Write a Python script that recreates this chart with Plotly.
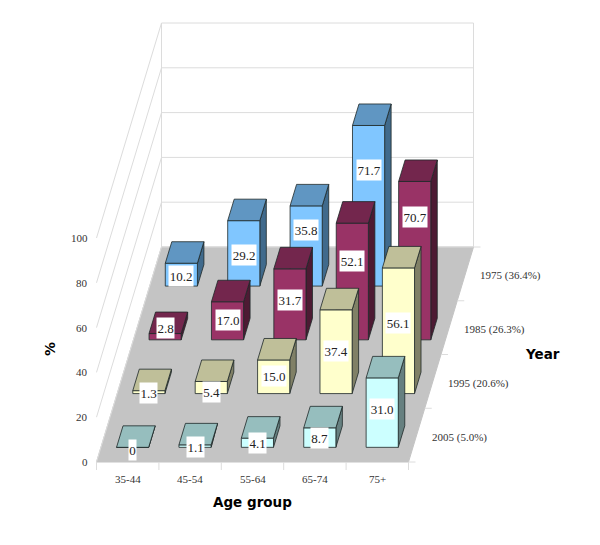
import plotly.graph_objects as go

# ---- data ----
age_groups = ["35-44", "45-54", "55-64", "65-74", "75+"]
years = ["2005 (5.0%)", "1995 (20.6%)", "1985 (26.3%)", "1975 (36.4%)"]
y2005 = [0, 1.1, 4.1, 8.7, 31.0]
y1995 = [1.3, 5.4, 15.0, 37.4, 56.1]
y1985 = [2.8, 17.0, 31.7, 52.1, 70.7]
y1975 = [10.2, 29.2, 35.8, 71.7, None]
value_ticks = [0, 20, 40, 60, 80, 100]

series = [y2005, y1995, y1985, y1975]

# ---- styles (front, top, side) ----
colours = [
    ("#CCFFFF", "#96BEBE", "#668080"),
    ("#FFFFCC", "#BFBF99", "#808066"),
    ("#993366", "#73264D", "#4D1A33"),
    ("#80C6FF", "#6096C2", "#406A8C"),
]
edge = "rgba(30,40,40,0.8)"
grid = "#DCDCDC"
text_col = "#333333"
serif = "Liberation Serif"
heavy = "DejaVu Sans"

# ---- oblique projection of the chart's (category, depth, value) space ----
X0, Y0 = 96.5, 462.0
CAT_W = 62.4
DEPTH_DX, DEPTH_DY = 16.25, 53.75
VAL_H = 2.24
BAR_X, BAR_W = 0.25, 0.515
BAR_D0, BAR_D = 0.273, 0.40


def proj(c, d, v=0.0):
    return X0 + c * CAT_W + d * DEPTH_DX, Y0 - d * DEPTH_DY - v * VAL_H


def path(points):
    xs, ys = zip(*points)
    return list(xs) + [xs[0], None], list(ys) + [ys[0], None]


n_c, n_d = len(age_groups), len(years)
top_val = value_ticks[-1]
fig = go.Figure()


def add_poly(polys, fill, line, width=1, name=None):
    xs, ys = [], []
    for p in polys:
        a, b = path(p)
        xs += a
        ys += b
    fig.add_trace(go.Scatter(x=xs, y=ys, mode="lines", fill="toself" if fill else None,
                             fillcolor=fill, line=dict(color=line, width=width),
                             hoverinfo="skip", showlegend=False, name=name))


# floor
add_poly([[proj(0, 0), proj(n_c, 0), proj(n_c, n_d), proj(0, n_d)]], "#C4C4C4", "#C4C4C4", name="floor")

# walls and gridlines
for v in value_ticks:
    a, b, c = proj(0, 0, v), proj(0, n_d, v), proj(n_c, n_d, v)
    fig.add_trace(go.Scatter(x=[a[0], b[0], c[0]], y=[a[1], b[1], c[1]], mode="lines",
                             line=dict(color=grid, width=1), hoverinfo="skip", showlegend=False))
for c_, d_ in [(0, n_d), (n_c, n_d)]:
    a, b = proj(c_, d_, 0), proj(c_, d_, top_val)
    fig.add_trace(go.Scatter(x=[a[0], b[0]], y=[a[1], b[1]], mode="lines",
                             line=dict(color=grid, width=1), hoverinfo="skip", showlegend=False))

# axis tick stubs
sx, sy = [], []
for i in range(n_c + 1):
    a = proj(i, 0)
    sx += [a[0], a[0], None]
    sy += [a[1], a[1] + 8, None]
for j in range(n_d + 1):
    a = proj(n_c, j)
    sx += [a[0], a[0] + 7, None]
    sy += [a[1], a[1], None]
fig.add_trace(go.Scatter(x=sx, y=sy, mode="lines", line=dict(color=grid, width=1),
                         hoverinfo="skip", showlegend=False))

# bars, back to front
for j in reversed(range(n_d)):
    fronts, tops, sides = [], [], []
    for i, v in enumerate(series[j]):
        if v is None:
            continue
        l, r = i + BAR_X, i + BAR_X + BAR_W
        d0, d1 = j + BAR_D0, j + BAR_D0 + BAR_D
        fronts.append([proj(l, d0, 0), proj(r, d0, 0), proj(r, d0, v), proj(l, d0, v)])
        tops.append([proj(l, d0, v), proj(r, d0, v), proj(r, d1, v), proj(l, d1, v)])
        sides.append([proj(r, d0, 0), proj(r, d1, 0), proj(r, d1, v), proj(r, d0, v)])
    front, top, side = colours[j]
    add_poly(sides, side, edge, name=years[j] + " side")
    add_poly(fronts, front, edge, name=years[j] + " front")
    add_poly(tops, top, edge, name=years[j] + " top")

# hand-placed data label lifts in the original (px above the centre of the front face)
label_lift = [
    [-3, -1, 0, 0, 4],
    [-1, -4, 1, 1, 8],
    [9, 1, 4, 20, 44],
    [-1, -2, 16, 36, 0],
]

ann = []
for j in range(n_d):
    for i, v in enumerate(series[j]):
        if v is None:
            continue
        x, y = proj(i + BAR_X + BAR_W / 2, j + BAR_D0, v / 2)
        txt = "0" if v == 0 else f"{v:.1f}"
        ann.append(dict(x=x, y=y - label_lift[j][i], text=txt, showarrow=False, bgcolor="#FFFFFF",
                        font=dict(family=serif, size=13, color="#222222"),
                        width=7 if v == 0 else (17 if v < 10 else 24), height=20, borderpad=0))

for i, lab in enumerate(age_groups):
    x, y = proj(i + 0.5, 0)
    ann.append(dict(x=x, y=y + 17, text=lab, showarrow=False,
                    font=dict(family=serif, size=11, color=text_col)))
for j, lab in enumerate(years):
    x, y = proj(n_c, j + 0.5)
    ann.append(dict(x=x + 13, y=y + 2, text=lab, showarrow=False, xanchor="left",
                    font=dict(family=serif, size=11, color=text_col)))
for v in value_ticks:
    x, y = proj(0, 0, v)
    ann.append(dict(x=x - 7, y=y, text=str(v), showarrow=False, xanchor="right",
                    font=dict(family=serif, size=11, color=text_col)))

ann.append(dict(x=252, y=502, text="<b>Age group</b>", showarrow=False,
                font=dict(family=heavy, size=13.5, color="#000000")))
ann.append(dict(x=542, y=354, text="<b>Year</b>", showarrow=False,
                font=dict(family=heavy, size=13.5, color="#000000")))
ann.append(dict(x=50, y=349, text="<b>%</b>", showarrow=False, textangle=-90,
                font=dict(family=heavy, size=14, color="#000000")))

for a in ann:
    a.update(xref="x", yref="y")

fig.update_layout(
    width=600, height=545, margin=dict(l=0, r=0, t=0, b=0),
    paper_bgcolor="white", plot_bgcolor="white", showlegend=False,
    xaxis=dict(range=[0, 600], visible=False, fixedrange=True),
    yaxis=dict(range=[545, 0], visible=False, fixedrange=True),
    annotations=ann,
)
fig.write_html("out.html", config={"displayModeBar": False},
               post_script="document.body.style.margin='0';")
